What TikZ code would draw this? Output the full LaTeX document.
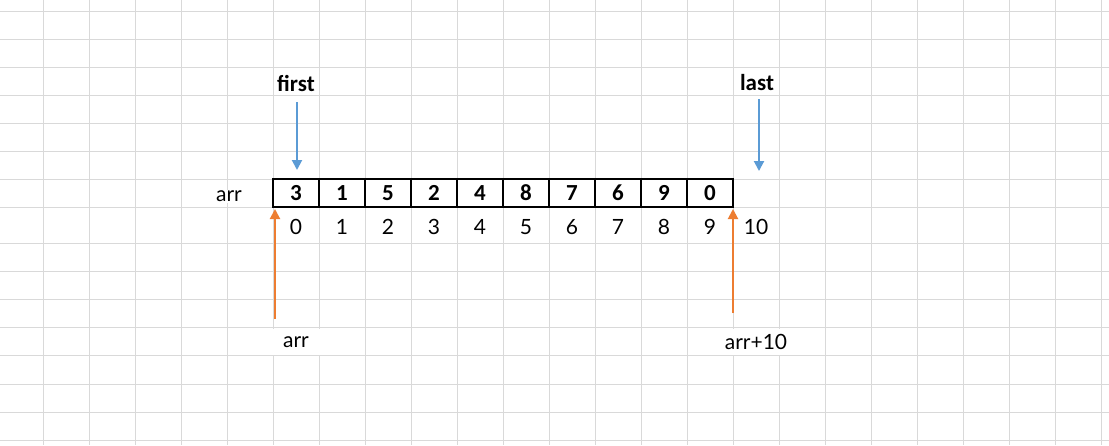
\documentclass[tikz,border=0pt]{standalone}
\usepackage{fontspec}
\setmainfont{Carlito}
\newfontfamily\idxfont{Lato}
\usetikzlibrary{positioning, calc, arrows.meta}
\definecolor{gridgray}{RGB}{217,217,217}
\definecolor{ptrblue}{RGB}{91,155,213}
\definecolor{ptrorange}{RGB}{237,125,49}
\tikzset{
	gridline/.style={draw=gridgray, line width=1pt},
	cell/.style={draw=black, line width=1.2pt, minimum width=46pt, minimum height=28pt, inner sep=0pt, text depth=-2pt, font=\fontsize{23}{26}\selectfont\bfseries},
	idx/.style={inner sep=0pt, font=\idxfont\fontsize{21}{24}\selectfont},
	ptrname/.style={fill=white, inner sep=1pt, font=\fontsize{23}{26}\selectfont\bfseries},
	plainname/.style={fill=white, inner sep=1pt, font=\idxfont\fontsize{21}{24}\selectfont},
	bluearrow/.style={draw=ptrblue, line width=2pt, -{Triangle[width=10pt,length=10pt]}},
	orangearrow/.style={draw=ptrorange, line width=2pt, -{Triangle[width=10pt,length=10pt]}}
}

\begin{document}
\begin{tikzpicture}[x=1pt, y=-1pt]
	\useasboundingbox[fill=white] (0,0) rectangle (1109,445);
	
	% sheet grid
	\foreach \x in {0,...,23}
		\draw[gridline] ({43+46*\x},0) -- ({43+46*\x},445);
	\foreach \y in {11,39,67,95,123,151,179,207,243.5,271.6,299.7,327.8,355.9,384,412.1,440.2}
		\draw[gridline] (0,\y) -- (1109,\y);
	
	% labels
	\node[ptrname] (f0) at (296,83) {first};
	\node[ptrname] (l0) at (757,83) {last};
	\node[plainname] (n0) at (229,196) {arr};
	\node[plainname, minimum width=136pt, minimum height=26pt] (n1) at (296,342) {arr};
	\node[plainname, minimum width=136pt, minimum height=26pt] (n2) at (756,342) {arr+10};
	
	% array cells
	\foreach \v [count=\i from 0] in {3,1,5,2,4,8,7,6,9,0}
		\node[cell] (c\i) at ({296+46*\i},193) {\v};
	
	% indices
	\foreach \i in {0,...,10}
		\node[idx] (d\i) at ({296+46*\i},227) {\i};
	
	% pointers
	\coordinate (f1) at (297,102);
	\coordinate (f2) at (297,170);
	\coordinate (l1) at (759,99);
	\coordinate (l2) at (759,171);
	\coordinate (a1) at (275,319);
	\coordinate (a2) at (275,209);
	\coordinate (b1) at (733,313);
	\coordinate (b2) at (733,209);
	\draw[bluearrow] (f1) -- (f2);
	\draw[bluearrow] (l1) -- (l2);
	\draw[orangearrow] (a1) -- (a2);
	\draw[orangearrow] (b1) -- (b2);
\end{tikzpicture}
\end{document}
